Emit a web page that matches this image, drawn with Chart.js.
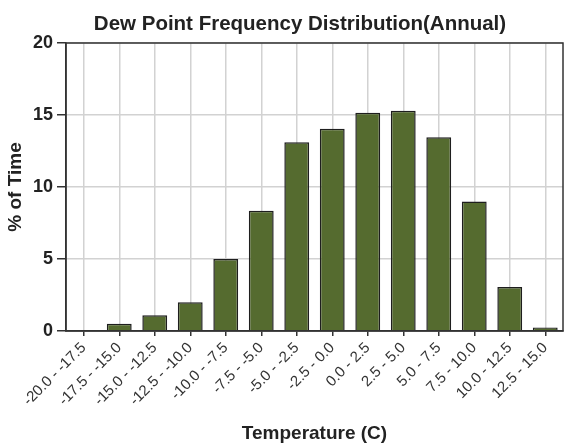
<!DOCTYPE html>
<html>
<head>
<meta charset="utf-8">
<script src="https://cdn.jsdelivr.net/npm/chart.js@4"></script>
<style>
  html, body { margin: 0; padding: 0; background: #fff; }
  #wrap { width: 566px; height: 446px; }
</style>
</head>
<body>
<div id="wrap"><canvas id="chart"></canvas></div>
<script>
// ---------- Dati ----------
const categories = [
  "-20.0 - -17.5", "-17.5 - -15.0", "-15.0 - -12.5", "-12.5 - -10.0",
  "-10.0 - -7.5", "-7.5 - -5.0", "-5.0 - -2.5", "-2.5 - 0.0",
  "0.0 - 2.5", "2.5 - 5.0", "5.0 - 7.5", "7.5 - 10.0",
  "10.0 - 12.5", "12.5 - 15.0"
];
const pctTime = [0, 0.5, 1.1, 2.0, 5.0, 8.35, 13.1, 14.05, 15.15, 15.3, 13.45, 9.0, 3.05, 0.25];
const yTicks = [0, 5, 10, 15, 20];
const chartTitle = "Dew Point Frequency Distribution(Annual)";

const FONT = "'Liberation Sans', Arial, sans-serif";

// bordo completo + titolo (centrato come nell'originale)
const frame = {
  id: "frame",
  afterDraw(chart) {
    const { ctx, chartArea: a } = chart;
    ctx.save();
    ctx.strokeStyle = "#333";
    ctx.lineWidth = 1.5;
    ctx.strokeRect(a.left, a.top, a.right - a.left, a.bottom - a.top);

    ctx.fillStyle = "#222";
    ctx.font = `bold 20.5px ${FONT}`;
    ctx.textAlign = "center";
    ctx.textBaseline = "alphabetic";
    ctx.fillText(chartTitle, 300, 30);
    ctx.restore();
  },
};

new Chart(document.getElementById("chart"), {
  type: "bar",
  data: {
    labels: categories,
    datasets: [{
      data: pctTime,
      backgroundColor: "#556b2f",
      borderColor: "#1e1e1e",
      borderWidth: 1.5,
      barPercentage: 0.7,
      categoryPercentage: 1,
    }],
  },
  options: {
    responsive: true,
    maintainAspectRatio: false,
    animation: false,
    layout: { padding: { left: 0, right: 3, top: 43, bottom: 0 } },
    plugins: {
      legend: { display: false },
      tooltip: { enabled: false },
      title: { display: false },
    },
    scales: {
      x: {
        grid: { offset: false, color: "#d2d2d2", lineWidth: 1.5, tickColor: "#333", tickLength: 5 },
        border: { color: "#333", width: 1.5 },
        ticks: {
          color: "#333",
          font: { family: FONT, size: 15 },
          minRotation: 45,
          maxRotation: 45,
          autoSkip: false,
          padding: 3,
        },
        title: {
          display: true,
          text: "Temperature (C)",
          color: "#222",
          font: { family: FONT, size: 19, weight: "bold" },
          padding: { top: 0, bottom: 1 },
        },
        afterFit: (s) => { s.height = 115; },
      },
      y: {
        min: 0,
        max: 20,
        afterBuildTicks: (s) => { s.ticks = yTicks.map((v) => ({ value: v })); },
        grid: { color: "#d2d2d2", lineWidth: 1.5, tickColor: "#333", tickLength: 9 },
        border: { color: "#333", width: 1.5 },
        ticks: {
          color: "#222",
          font: { family: FONT, size: 18, weight: "bold" },
          padding: 4,
        },
        title: {
          display: true,
          text: "% of Time",
          color: "#222",
          font: { family: FONT, size: 19, weight: "bold" },
          padding: { top: 4, bottom: 0 },
        },
        afterFit: (s) => { s.width = 66; },
      },
    },
  },
  plugins: [frame],
});
</script>
</body>
</html>
